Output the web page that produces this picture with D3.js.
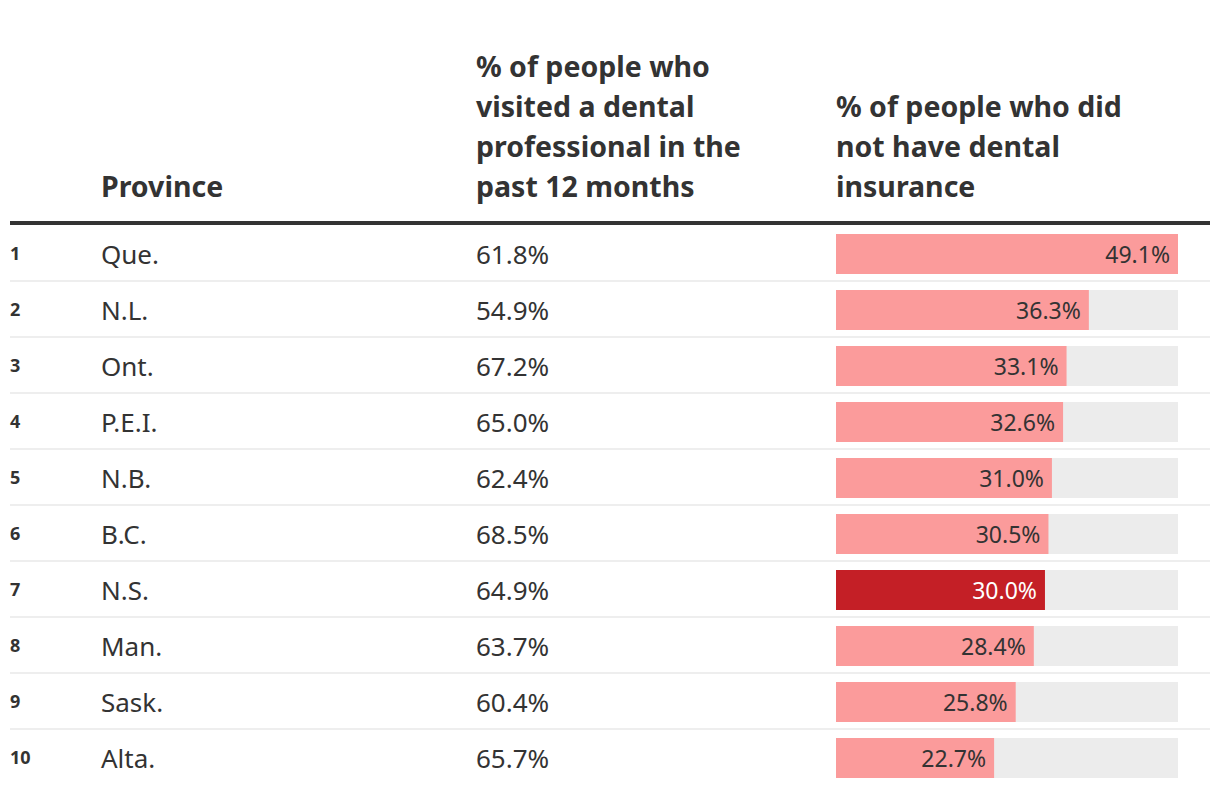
<!DOCTYPE html>
<html><head><meta charset="utf-8">
<script src="https://cdn.jsdelivr.net/npm/d3@7"></script>
<style>
body{margin:0;background:#fff;}
text{font-family:"Noto Sans",sans-serif;fill:#333;}
</style></head>
<body><svg id="c" width="1220" height="794"></svg>
<script>
const ranks = [1,2,3,4,5,6,7,8,9,10];
const provinces = ["Que.","N.L.","Ont.","P.E.I.","N.B.","B.C.","N.S.","Man.","Sask.","Alta."];
const visited = [61.8,54.9,67.2,65.0,62.4,68.5,64.9,63.7,60.4,65.7];
const noInsurance = [49.1,36.3,33.1,32.6,31.0,30.5,30.0,28.4,25.8,22.7];
const highlight = ["N.S."];
const headers = [["Province"],["% of people who","visited a dental","professional in the","past 12 months"],["% of people who did","not have dental","insurance"]];

const svg = d3.select("#c");
const rowTop = 225, rowH = 56, n = provinces.length;
const y = d3.scaleBand().domain(d3.range(n)).range([rowTop, rowTop + rowH*n]).paddingInner(0);
const x = d3.scaleLinear().domain([0, d3.max(noInsurance)]).range([836, 1178]);
const colX = [101, 476, 836];

// headers
headers.forEach((lines, i) => {
  const t = svg.append("text").attr("x", colX[i]).attr("y", 197 - (lines.length-1)*40)
    .style("font-weight", 700).style("font-size", "28.5px");
  lines.forEach((l, j) => t.append("tspan").attr("x", colX[i]).attr("dy", j ? 40 : 0).text(l));
});
svg.append("rect").attr("x", 10).attr("y", 221).attr("width", 1200).attr("height", 4).attr("fill", "#333");

const rows = svg.selectAll("g.row").data(provinces).join("g").attr("class","row")
  .attr("transform", (d,i) => `translate(0,${y(i)})`);

rows.filter((d,i) => i < n-1).append("rect").attr("x", 10).attr("y", rowH-1).attr("width", 1200).attr("height", 2).attr("fill", "#eeeeee");

rows.append("text").attr("x", 10).attr("y", 35)
  .style("font-weight", 700).style("font-size", "18px").text((d,i) => ranks[i]);
rows.append("text").attr("x", colX[0]).attr("y", 39)
  .style("font-size", "26px").text(d => d);
rows.append("text").attr("x", colX[1]).attr("y", 39)
  .style("font-size", "26px").text((d,i) => visited[i].toFixed(1) + "%");

rows.append("rect").attr("x", x(0)).attr("y", 9).attr("width", x.range()[1]-x(0)).attr("height", 40).attr("fill", "#ececec");
rows.append("rect").attr("x", x(0)).attr("y", 9).attr("width", (d,i) => x(noInsurance[i]) - x(0)).attr("height", 40)
  .attr("fill", d => highlight.includes(d) ? "#c41f26" : "#fb9b9b");
rows.append("text").attr("x", (d,i) => x(noInsurance[i]) - 8).attr("y", 38)
  .attr("text-anchor", "end").style("font-size", "23px")
  .style("fill", d => highlight.includes(d) ? "#fff" : "#333")
  .text((d,i) => noInsurance[i].toFixed(1) + "%");
</script></body></html>
